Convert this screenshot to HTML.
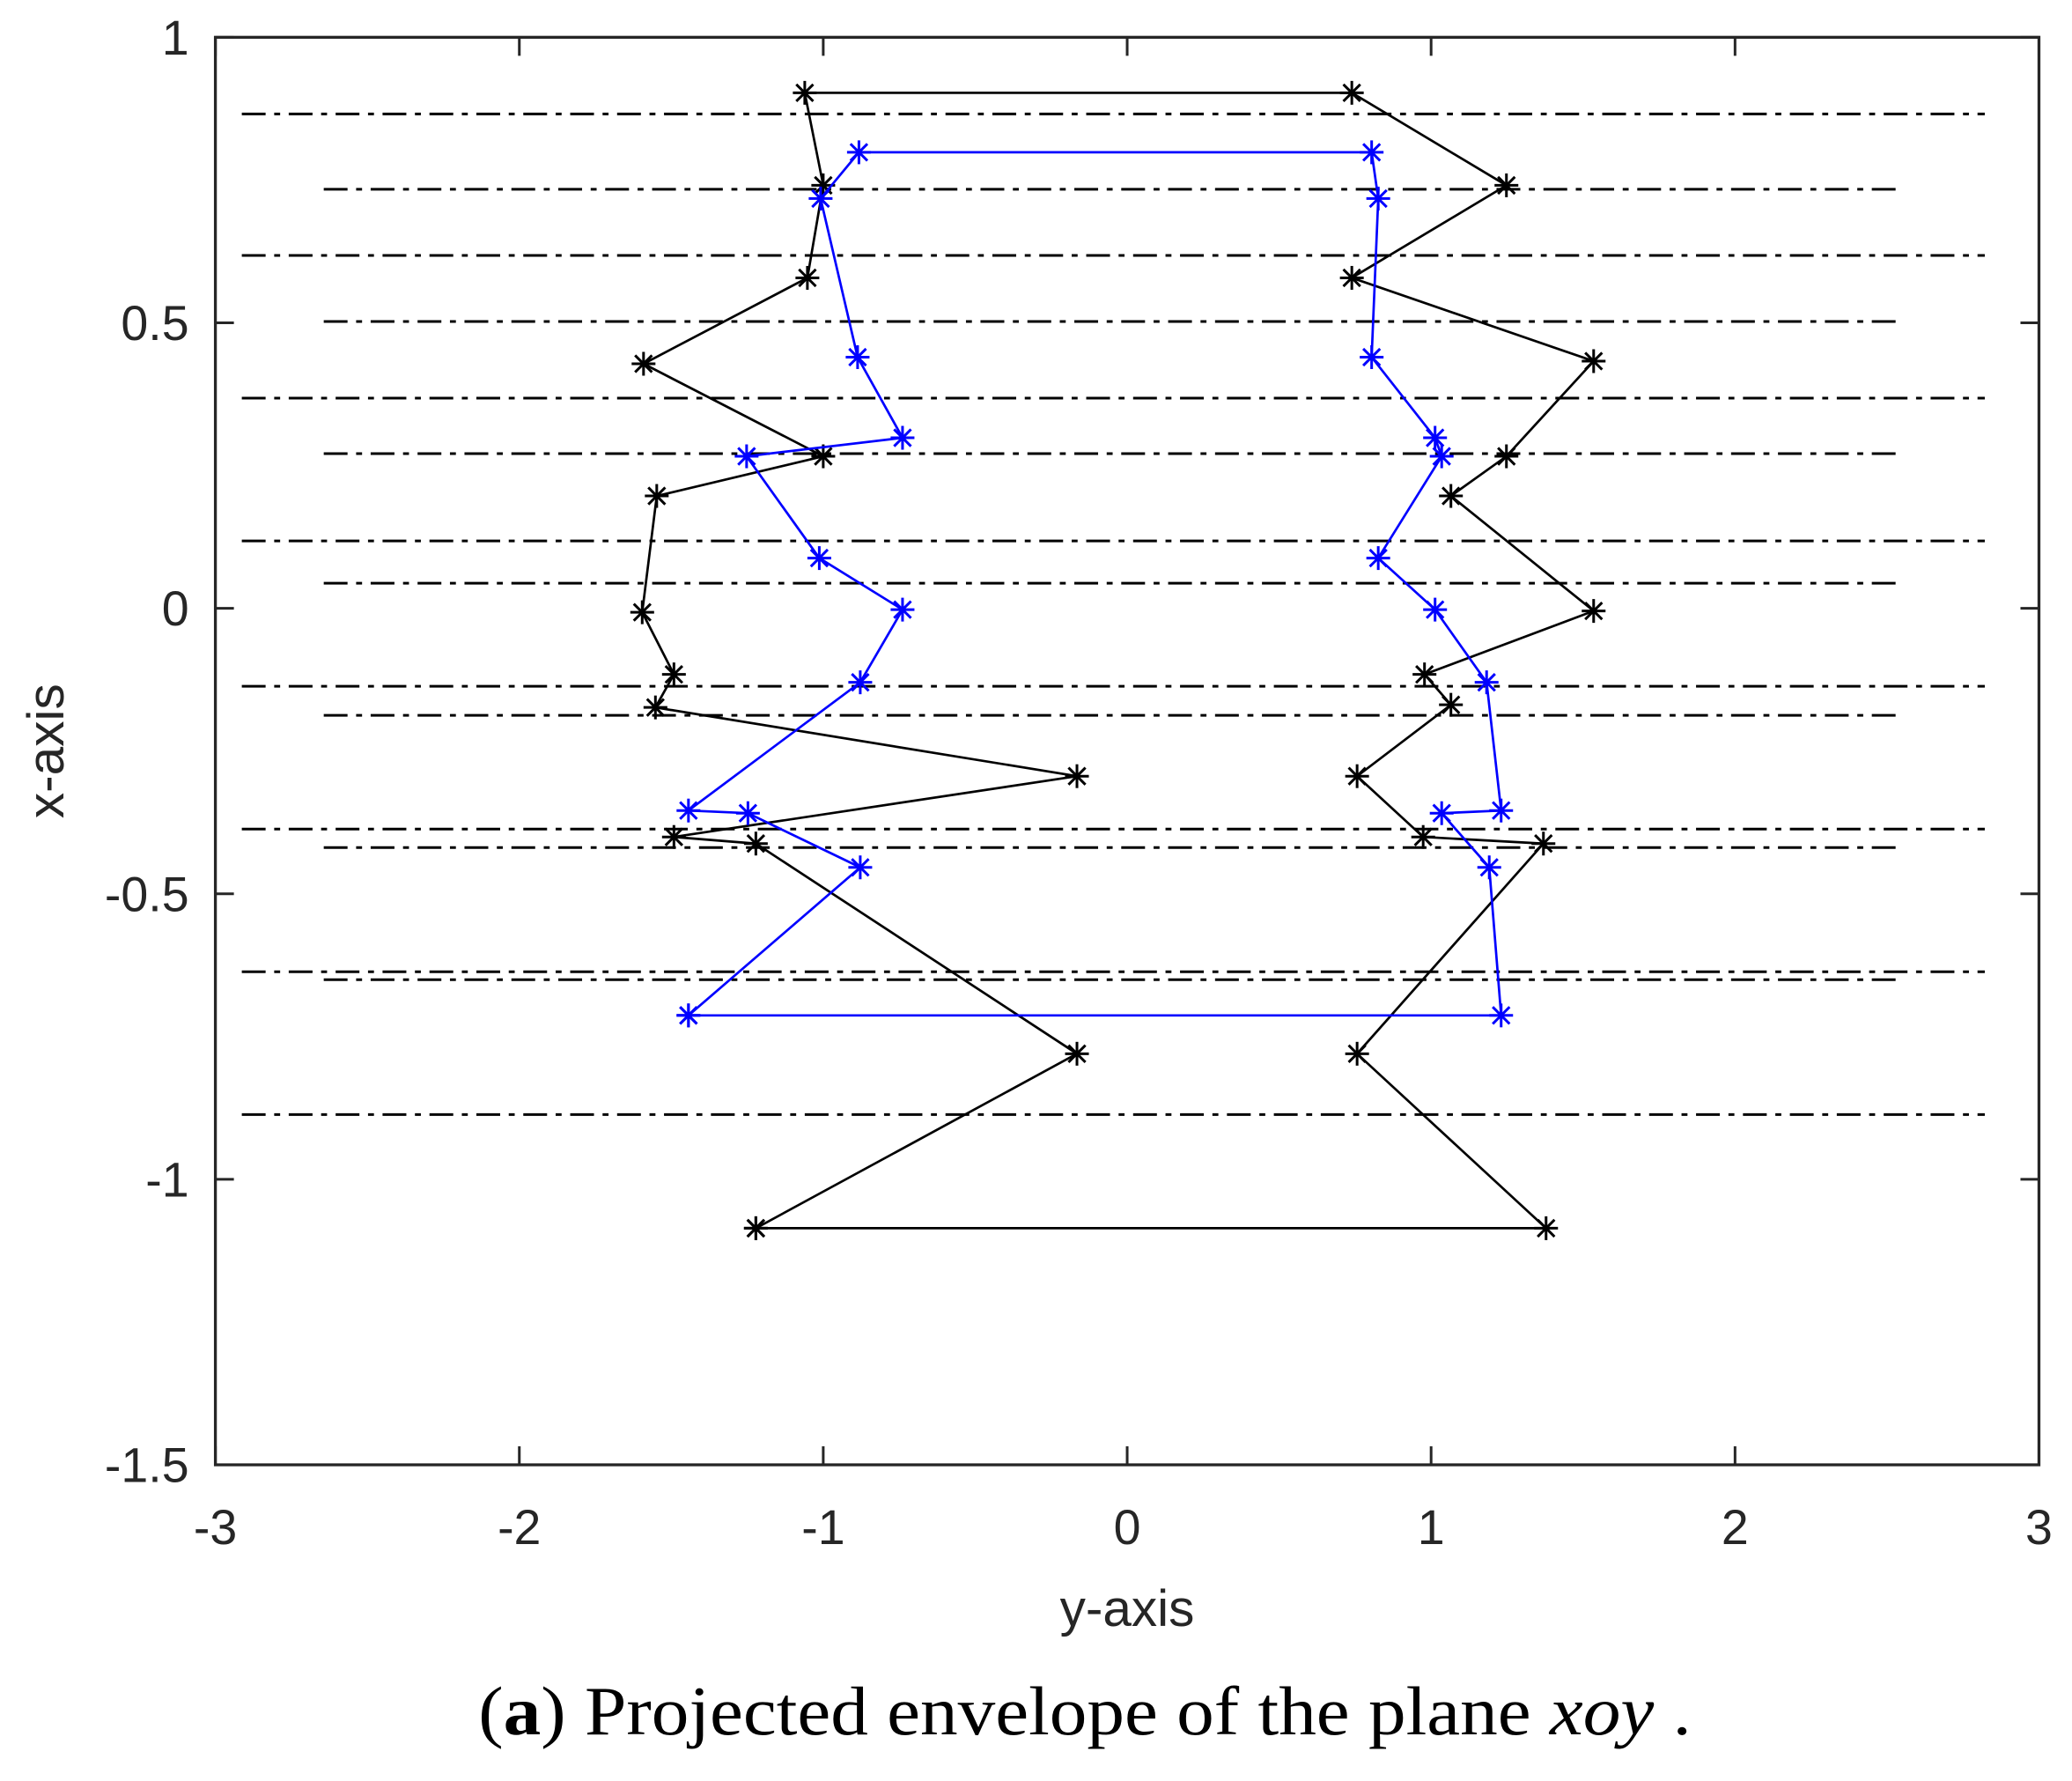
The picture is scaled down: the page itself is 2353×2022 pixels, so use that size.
<!DOCTYPE html>
<html><head><meta charset="utf-8"><style>html,body{margin:0;padding:0;background:#fff}svg{display:block}</style></head>
<body>
<svg id="s" xmlns="http://www.w3.org/2000/svg" width="2353" height="2022" viewBox="0 0 1568 1347">
<rect x="0" y="0" width="1568" height="1347" fill="#fff"/>
<g id="grid" stroke="#000" stroke-width="2" stroke-dasharray="18 6.5 4.5 6.5" fill="none"></g>
<g id="axes" stroke="#262626" stroke-width="2.2" fill="none">
<rect x="163" y="28" width="1380" height="1080"/>
</g>
<g id="ticks" stroke="#262626" stroke-width="2"></g>
<g id="data"></g>
<g font-family="Liberation Sans, sans-serif" font-size="37" fill="#262626" id="labels"></g>
<text x="853" y="1230" font-family="Liberation Sans, sans-serif" font-size="39" fill="#262626" text-anchor="middle">y-axis</text>
<text transform="translate(48,568) rotate(-90)" font-family="Liberation Sans, sans-serif" font-size="39" fill="#262626" text-anchor="middle">x-axis</text>
<text x="362" y="1312" font-family="Liberation Serif, serif" font-size="52" fill="#000" textLength="918" lengthAdjust="spacingAndGlyphs">(<tspan font-weight="bold">a</tspan>) Projected envelope of the plane   <tspan font-style="italic">xoy</tspan> .</text>
</svg>
<script>
var NS="http://www.w3.org/2000/svg";
function el(p,t,a){var e=document.createElementNS(NS,t);for(var k in a)e.setAttribute(k,a[k]);p.appendChild(e);return e;}
var g=document.getElementById('grid');
[86,193,301,409,519,627,735,843].forEach(function(y){el(g,'line',{x1:183,x2:1502,y1:y,y2:y});});
[143,243,343,441,541,641,741].forEach(function(y){el(g,'line',{x1:245,x2:1436,y1:y,y2:y});});
var t=document.getElementById('ticks'),L=document.getElementById('labels');
for(var i=0;i<=6;i++){var x=163+i*230;el(t,'line',{x1:x,x2:x,y1:1108,y2:1094});el(t,'line',{x1:x,x2:x,y1:28,y2:42});
 var tx=el(L,'text',{x:x,y:1168,'text-anchor':'middle'});tx.textContent=String(i-3);}
var yl=['1','0.5','0','-0.5','-1','-1.5'];
for(var j=0;j<6;j++){var y=28+j*216;el(t,'line',{x1:163,x2:177,y1:y,y2:y});el(t,'line',{x1:1543,x2:1529,y1:y,y2:y});
 var ty=el(L,'text',{x:143,y:y+13,'text-anchor':'end'});ty.textContent=yl[j];}
var D=document.getElementById('data');
function series(pts,c){el(D,'polyline',{points:pts.map(function(p){return p.join(',')}).join(' '),fill:'none',stroke:c,'stroke-width':1.8});
 pts.forEach(function(p){var x=p[0],y=p[1],r=9,d=6.4;
 [[x-r,y,x+r,y],[x,y-r,x,y+r],[x-d,y-d,x+d,y+d],[x-d,y+d,x+d,y-d]].forEach(function(l){el(D,'line',{x1:l[0],y1:l[1],x2:l[2],y2:l[3],stroke:c,'stroke-width':2});});});}
var bl=[[609,70],[623,140],[611,210],[487,275],[623,345],[497,375],[486,463],[510,510],[496,535],[815,587],[510,633],[572,638],[815,797],[572,929]];
var br=[[1023,70],[1140,140],[1023,210],[1206,273],[1140,345],[1098,375],[1206,462],[1078,510],[1098,533],[1027,587],[1077,633],[1168,638],[1027,797],[1170,929]];
var black=bl.slice().reverse().concat(br);
var ul=[[650,115],[621,150],[649,270],[683,331],[565,345],[620,422],[683,461],[651,516],[521,613],[566,615],[651,656],[521,768]];
var ur=[[1038,115],[1043,150],[1038,270],[1086,331],[1091,345],[1043,422],[1086,461],[1125,516],[1136,613],[1091,615],[1127,656],[1136,768]];
var blue=ul.slice().reverse().concat(ur);
series(black.concat([bl[bl.length-1]]),'#000');
series(blue.concat([ul[ul.length-1]]),'#0000ff');
</script>
</body></html>
